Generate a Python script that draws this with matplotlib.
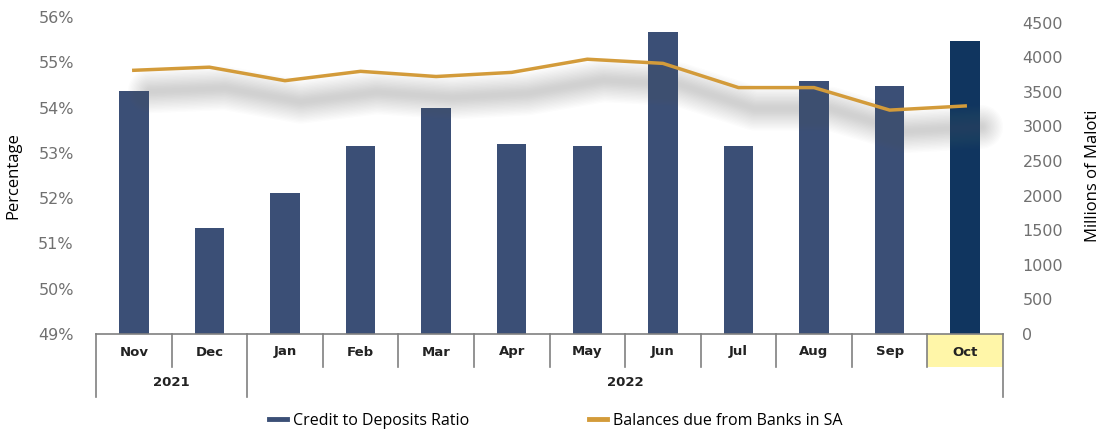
import matplotlib
matplotlib.use("Agg")
from matplotlib import pyplot as plt
from matplotlib import transforms
from matplotlib.patches import Rectangle
from matplotlib.lines import Line2D

months = ["Nov", "Dec", "Jan", "Feb", "Mar", "Apr", "May", "Jun", "Jul", "Aug", "Sep", "Oct"]
years = ["2021", "2022"]
year_spans = [(0, 2), (2, 12)]
credit_ratio = [54.37, 51.35, 52.12, 53.15, 53.99, 53.2, 53.15, 55.67, 53.15, 54.59, 54.48, 55.47]
balances_sa = [3810, 3855, 3660, 3795, 3720, 3780, 3970, 3910, 3560, 3560, 3235, 3295]

bar_color = "#3B4F76"
last_bar_color = "#10355F"
line_color = "#D39B3A"
grid_grey = "#808080"
tick_grey = "#707070"

plt.rcParams["font.family"] = ["DejaVu Sans"]

fig = plt.figure(figsize=(11.05, 4.33), dpi=100)
ax = fig.add_axes([96 / 1105, 99 / 433, 907 / 1105, 317 / 433])
ax2 = ax.twinx()

x = list(range(len(months)))
colors = [bar_color] * (len(months) - 1) + [last_bar_color]
ax.bar(x, [v - 49 for v in credit_ratio], bottom=49, width=0.39, color=colors, zorder=2)
ax.set_ylim(49, 56)
ax.set_xlim(-0.5, len(months) - 0.5)
ax.set_yticks(range(49, 57))
ax.set_yticklabels([f"{v}%" for v in range(49, 57)])
ax.tick_params(axis="y", length=0, pad=16, labelsize=11.5, labelcolor=tick_grey)
ax.set_xticks([])
ax.set_ylabel("Percentage", fontsize=12, family="Open Sans", labelpad=12)

# soft shadow under the line
off = transforms.offset_copy(ax2.transData, fig=fig, x=16, y=-21, units="dots")
for i in range(16):
    ax2.plot(x, balances_sa, color="#707070", lw=3 + i * 1.9, alpha=0.02,
             solid_capstyle="round", solid_joinstyle="round", transform=off, zorder=1)
ax2.plot(x, balances_sa, color=line_color, lw=2.5, zorder=3)
ax2.set_ylim(0, 4580)
ax2.set_yticks(range(0, 4501, 500))
ax2.tick_params(axis="y", length=0, pad=14, labelsize=11.5, labelcolor=tick_grey)
ax2.set_ylabel("Millions of Maloti", fontsize=12, family="Open Sans", labelpad=16)

for a in (ax, ax2):
    for s in a.spines.values():
        s.set_visible(False)

# two-level category axis drawn as a table under the plot
tr = ax.get_xaxis_transform()
row1 = -33 / 317
row2 = -63 / 317
ax.add_patch(Rectangle((10.5, row1), 1, -row1, transform=tr, facecolor="#FFF6A8",
                       edgecolor="none", clip_on=False, zorder=0))
ax.plot([-0.5, 11.5], [0, 0], transform=tr, color=grid_grey, lw=1.2, clip_on=False)
year_edges = {s for s, e in year_spans} | {e for s, e in year_spans}
for b in range(len(months) + 1):
    bottom = row2 if b in year_edges else row1
    ax.plot([b - 0.5, b - 0.5], [0, bottom], transform=tr, color=grid_grey, lw=1.2,
            clip_on=False)
for i, m in enumerate(months):
    ax.text(i, -18 / 317, m, transform=tr, ha="center", va="center",
            fontsize=9.5, fontweight="bold", color="#222222")
for (s, e), yr in zip(year_spans, years):
    ax.text((s + e - 1) / 2, -48 / 317, yr, transform=tr, ha="center", va="center",
            fontsize=9.5, fontweight="bold", color="#222222")

handles = [Line2D([0], [0], color=bar_color, lw=3.5),
           Line2D([0], [0], color=line_color, lw=3.5)]
fig.legend(handles, ["Credit to Deposits Ratio", "Balances due from Banks in SA"],
           loc="center", bbox_to_anchor=(556 / 1105, 1 - 421 / 433), ncol=2,
           frameon=False, handlelength=1.1, handletextpad=0.4, columnspacing=7.5,
           prop={"family": "Open Sans", "size": 11.5})

fig.savefig("out.png", dpi=100)
